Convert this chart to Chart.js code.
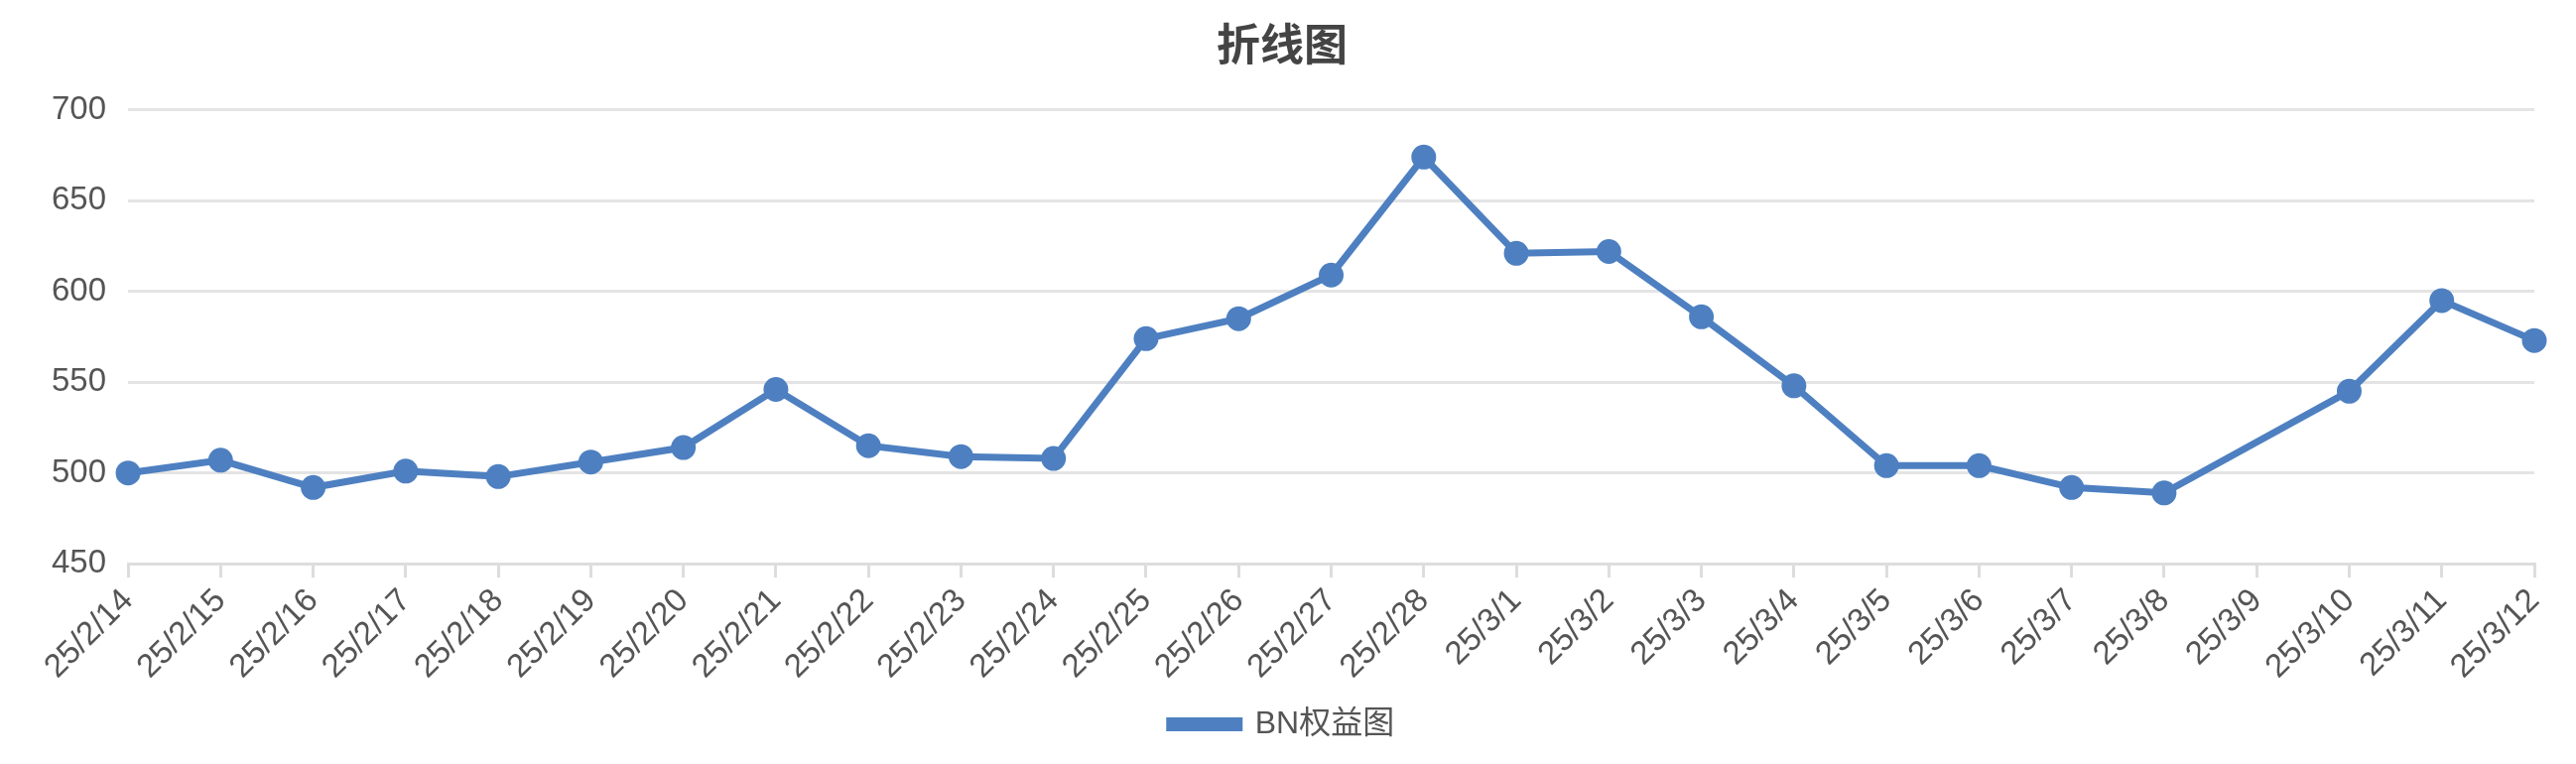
<!DOCTYPE html>
<html><head><meta charset="utf-8">
<script src="https://cdn.jsdelivr.net/npm/chart.js@4"></script>
<style>html,body{margin:0;background:#fff}#w{width:2596px;height:770px}</style>
</head><body><div id="w"><canvas id="c"></canvas></div>
<script>
const categories=['25/2/14','25/2/15','25/2/16','25/2/17','25/2/18','25/2/19','25/2/20','25/2/21','25/2/22','25/2/23','25/2/24','25/2/25','25/2/26','25/2/27','25/2/28','25/3/1','25/3/2','25/3/3','25/3/4','25/3/5','25/3/6','25/3/7','25/3/8','25/3/9','25/3/10','25/3/11','25/3/12'];
const values=[500,507,492,501,498,506,514,546,515,509,508,574,585,609,674,621,622,586,548,504,504,492,489,null,545,595,573];
const F='"Liberation Sans", Arial, "Noto Sans CJK SC", sans-serif';
new Chart(document.getElementById('c'),{type:'line',
data:{labels:categories,datasets:[{label:'BN权益图',data:values,borderColor:'#4e80c1',backgroundColor:'#4e80c1',borderWidth:7,pointRadius:9,pointBackgroundColor:'#4e80c1',spanGaps:true,tension:0}]},
options:{responsive:true,maintainAspectRatio:false,animation:false,
layout:{padding:{left:30,right:42,top:10,bottom:14}},
plugins:{title:{display:true,text:'折线图',color:'#444',font:{family:F,size:44,weight:'bold'},padding:{top:12,bottom:36}},
legend:{position:'bottom',labels:{color:'#555',font:{family:F,size:32},boxWidth:70,boxHeight:7,padding:18}}},
scales:{x:{offset:false,grid:{drawOnChartArea:false,color:'#ddd',lineWidth:3,tickLength:14},border:{color:'#ddd',width:3},ticks:{color:'#555',font:{family:F,size:33},maxRotation:45,minRotation:45,autoSkip:false,padding:4}},
y:{min:450,max:700,ticks:{stepSize:50,color:'#555',font:{family:F,size:33},padding:22},grid:{color:'#e4e4e4',lineWidth:3,drawTicks:false},border:{display:false}}}}});
</script></body></html>
